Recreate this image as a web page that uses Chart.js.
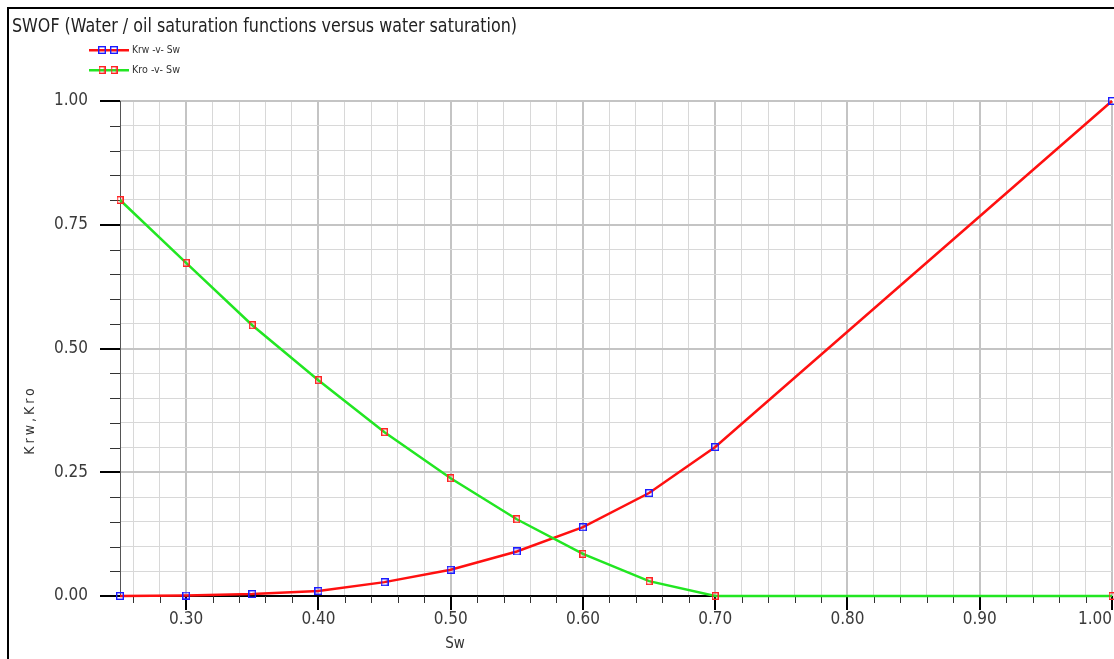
<!DOCTYPE html>
<html>
<head>
<meta charset="utf-8">
<title>SWOF</title>
<script src="https://cdn.jsdelivr.net/npm/chart.js@4.4.1/dist/chart.umd.min.js"></script>
<style>
    html, body { margin: 0; padding: 0; background: #fff; overflow: hidden; }
    #wrap { width: 1114px; height: 659px; }
</style>
</head>
<body>
<div id="wrap"><canvas id="swofChart" width="1114" height="659"></canvas></div>
<script>
// Data
const chartTitle = 'SWOF (Water / oil saturation functions versus water saturation)';
const xTitle = 'Sw';
const yTitle = 'Krw,Kro';
const seriesNames = ['Krw -v- Sw', 'Kro -v- Sw'];

const sw  = [0.25, 0.30, 0.35, 0.40, 0.45, 0.50, 0.55, 0.60, 0.65, 0.70, 1.00];
const krw = [0.000, 0.001, 0.004, 0.010, 0.028, 0.053, 0.090, 0.139, 0.208, 0.301, 1.000];
const kro = [0.800, 0.673, 0.547, 0.436, 0.331, 0.238, 0.155, 0.085, 0.030, 0.000, 0.000];

const xLabels = ['0.30', '0.40', '0.50', '0.60', '0.70', '0.80', '0.90', '1.00'];
const yLabels = ['0.00', '0.25', '0.50', '0.75', '1.00'];

const narrow = "'Liberation Sans Narrow', 'DejaVu Sans Condensed', 'Liberation Sans', sans-serif";

function isMajorX(v) { return Math.abs(v * 10 - Math.round(v * 10)) < 1e-6; }
function isMajorY(v) { return Math.abs(v * 4 - Math.round(v * 4)) < 1e-6; }

// marker images, used for the points and the legend
function makeMarker(color, w, h) {
    const c = document.createElement('canvas');
    c.width = w; c.height = h;
    const g = c.getContext('2d');
    g.strokeStyle = color;
    g.lineWidth = 1.4;
    g.strokeRect(0.7, 0.7, w - 1.4, h - 1.4);
    return c;
}
const krwMarker = makeMarker('#1c1cff', 8, 8);
const kroMarker = makeMarker('#ff2424', 7, 8);

function fitText(ctx, text, x, y, width) {
    const w = ctx.measureText(text).width;
    ctx.save();
    ctx.translate(x, y);
    ctx.scale(width / w, 1);
    ctx.fillText(text, 0, 0);
    ctx.restore();
}

const framePlugin = {
    id: 'frame',
    beforeDraw(chart) {
        const ctx = chart.ctx;
        ctx.save();
        ctx.fillStyle = '#fff';
        ctx.fillRect(0, 0, chart.width, chart.height);
        ctx.fillStyle = '#000';
        ctx.fillRect(7, 7, chart.width - 7, 2);
        ctx.fillRect(7, 7, 2, chart.height - 7);
        ctx.restore();
    },
    beforeDatasetsDraw(chart) {
        const ctx = chart.ctx;
        const a = chart.chartArea;
        const xs = chart.scales.x, ys = chart.scales.y;
        ctx.save();
        // left axis
        ctx.fillStyle = '#555';
        ctx.fillRect(a.left, a.top, 1, a.bottom - a.top);
        // y tick marks
        ys.ticks.forEach(t => {
            const y = Math.round(ys.getPixelForValue(t.value));
            if (isMajorY(t.value)) {
                ctx.fillStyle = '#000';
                ctx.fillRect(a.left - 20, y - 1, 20, 2);
            } else {
                ctx.fillStyle = '#333';
                ctx.fillRect(a.left - 10, y, 10, 1);
            }
        });
        // bottom axis
        ctx.fillStyle = '#000';
        ctx.fillRect(a.left - 20, a.bottom - 1, a.right - a.left + 20, 2);
        // x tick marks
        xs.ticks.forEach(t => {
            const x = Math.round(xs.getPixelForValue(t.value));
            if (isMajorX(t.value)) {
                ctx.fillStyle = '#000';
                ctx.fillRect(x - 1, a.bottom, 2, 14);
            } else {
                ctx.fillStyle = '#333';
                ctx.fillRect(x, a.bottom, 1, 7);
            }
        });
        ctx.restore();
    },
    afterDraw(chart) {
        const ctx = chart.ctx;
        ctx.save();
        // title
        ctx.fillStyle = '#222';
        ctx.textBaseline = 'middle';
        ctx.textAlign = 'left';
        ctx.font = '20px ' + narrow;
        fitText(ctx, chartTitle, 12, 27, 505);

        // legend
        const legend = [
            { name: seriesNames[0], line: '#ff1010', marker: krwMarker, y: 50 },
            { name: seriesNames[1], line: '#22e622', marker: kroMarker, y: 70 }
        ];
        ctx.font = '11px ' + narrow;
        legend.forEach(l => {
            ctx.fillStyle = l.line;
            ctx.fillRect(89, l.y - 1, 40, 2.5);
            [102, 114].forEach(mx => ctx.drawImage(l.marker, mx - l.marker.width / 2, l.y - l.marker.height / 2));
            ctx.fillStyle = '#333';
            fitText(ctx, l.name, 132, l.y, 48);
        });

        // axis titles
        ctx.fillStyle = '#333';
        ctx.textAlign = 'center';
        ctx.font = '15px ' + narrow;
        ctx.fillText(xTitle, 455, 644);

        ctx.translate(30, 420);
        ctx.rotate(-Math.PI / 2);
        ctx.font = '14px ' + narrow;
        ctx.letterSpacing = '3px';
        ctx.fillText(yTitle, 0, 0);
        ctx.restore();
    }
};

const ctx = document.getElementById('swofChart').getContext('2d');

new Chart(ctx, {
    type: 'line',
    data: {
        datasets: [
            {
                label: seriesNames[0],
                data: sw.map((x, i) => ({ x, y: krw[i] })),
                borderColor: '#ff1010',
                borderWidth: 2.5,
                pointStyle: krwMarker,
                pointRadius: 4,
                tension: 0,
                clip: 6,
                order: 1
            },
            {
                label: seriesNames[1],
                data: sw.map((x, i) => ({ x, y: kro[i] })),
                borderColor: '#22e622',
                borderWidth: 2.5,
                pointStyle: kroMarker,
                pointRadius: 4,
                tension: 0,
                clip: 6,
                order: 0
            }
        ]
    },
    options: {
        responsive: false,
        animation: false,
        devicePixelRatio: 1,
        layout: { autoPadding: false, padding: { top: 101, right: 2, left: 0, bottom: 0 } },
        plugins: {
            legend: { display: false },
            title: { display: false },
            tooltip: { enabled: false }
        },
        scales: {
            x: {
                type: 'linear',
                min: 0.25,
                max: 1.00,
                afterBuildTicks(scale) {
                    const ticks = [];
                    for (let i = 13; i <= 50; i++) ticks.push({ value: i / 50 });
                    scale.ticks = ticks;
                },
                afterFit(scale) {
                    scale.height = 63;
                    scale.paddingLeft = 0;
                    scale.paddingRight = 0;
                },
                border: { display: false },
                grid: {
                    drawTicks: false,
                    color: c => isMajorX(c.tick.value) ? '#c4c4c4' : '#d8d8d8',
                    lineWidth: c => isMajorX(c.tick.value) ? 2 : 1
                },
                ticks: {
                    autoSkip: false,
                    maxRotation: 0,
                    minRotation: 0,
                    align: 'inner',
                    padding: 13,
                    color: '#3a3a3a',
                    font: { family: narrow, size: 17 },
                    callback: v => {
                        const s = v.toFixed(2);
                        return isMajorX(v) && xLabels.includes(s) ? s : '';
                    }
                }
            },
            y: {
                type: 'linear',
                min: 0,
                max: 1,
                afterFit(scale) {
                    scale.width = 120;
                    scale.paddingTop = 0;
                    scale.paddingBottom = 0;
                },
                border: { display: false },
                grid: {
                    drawTicks: false,
                    color: c => isMajorY(c.tick.value) ? '#c4c4c4' : '#d8d8d8',
                    lineWidth: c => isMajorY(c.tick.value) ? 2 : 1
                },
                ticks: {
                    stepSize: 0.05,
                    padding: 32,
                    color: '#3a3a3a',
                    font: { family: narrow, size: 17 },
                    callback: v => {
                        const s = v.toFixed(2);
                        return isMajorY(v) && yLabels.includes(s) ? s : '';
                    }
                }
            }
        }
    },
    plugins: [framePlugin]
});
</script>
</body>
</html>
